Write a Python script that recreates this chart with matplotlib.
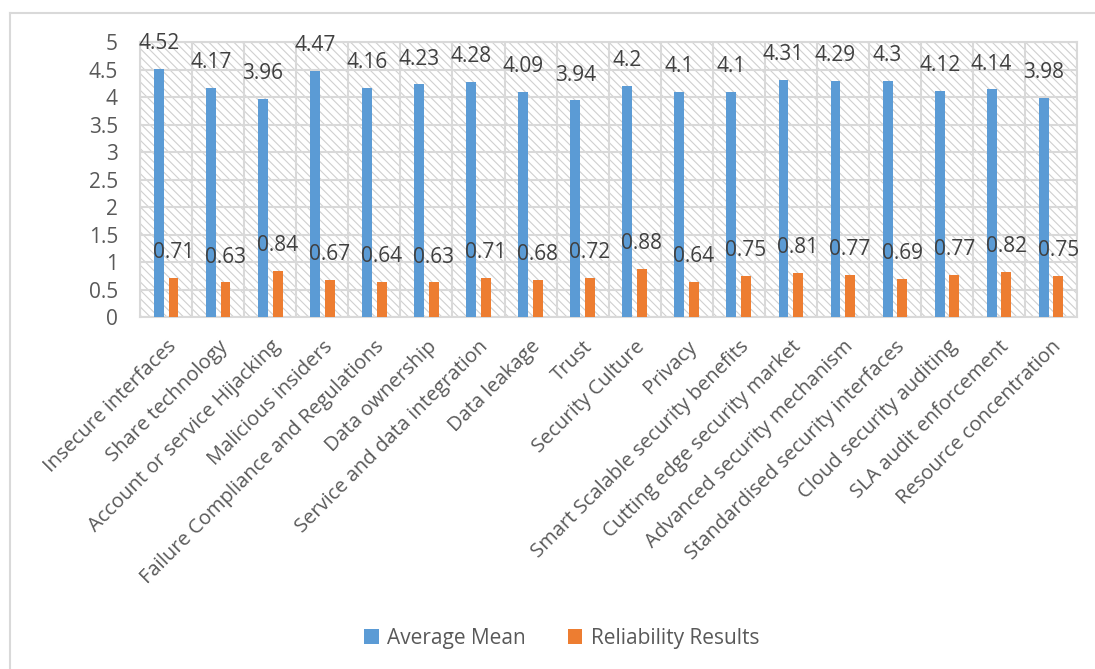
import numpy as np
import matplotlib
matplotlib.use('Agg')
import matplotlib.pyplot as plt
from matplotlib.patches import Rectangle
from matplotlib.lines import Line2D

categories = ['Insecure interfaces', 'Share technology', 'Account or service Hijacking',
              'Malicious insiders', 'Failure Compliance and Regulations', 'Data ownership',
              'Service and data integration', 'Data leakage', 'Trust', 'Security Culture',
              'Privacy', 'Smart Scalable security benefits', 'Cutting edge security market',
              'Advanced security mechanism', 'Standardised security interfaces',
              'Cloud security auditing', 'SLA audit enforcement', 'Resource concentration']
average_mean = [4.52, 4.17, 3.96, 4.47, 4.16, 4.23, 4.28, 4.09, 3.94, 4.2,
                4.1, 4.1, 4.31, 4.29, 4.3, 4.12, 4.14, 3.98]
reliability = [0.71, 0.63, 0.84, 0.67, 0.64, 0.63, 0.71, 0.68, 0.72, 0.88,
               0.64, 0.75, 0.81, 0.77, 0.69, 0.77, 0.82, 0.75]

plt.rcParams['font.family'] = ['Open Sans', 'DejaVu Sans']
plt.rcParams['hatch.color'] = '#d0d0d0'
plt.rcParams['hatch.linewidth'] = 0.8
txt = '#595959'
grid = '#d9d9d9'

fig = plt.figure(figsize=(10.95, 6.69), dpi=100)
ax = fig.add_axes([0.128, 0.526, 0.8556, 0.411])

# outer frame (only top and left edges visible in the original)
W, H = 1095, 669
fig.lines.append(Line2D([10 / W, 10 / W], [0, 1 - 13 / H], transform=fig.transFigure,
                        color='#d9d9d9', linewidth=1.5))
fig.lines.append(Line2D([10 / W, 1], [1 - 13 / H, 1 - 13 / H], transform=fig.transFigure,
                        color='#d9d9d9', linewidth=1.5))

x = np.arange(len(categories))
w = 0.19
ax.add_patch(Rectangle((-0.5, 0), len(categories), 5, facecolor='white',
                       hatch='\\\\\\\\', edgecolor='#d0d0d0', linewidth=0, zorder=0))
b1 = ax.bar(x - 0.14, average_mean, w, color='#5b9bd5', label='Average Mean', zorder=3)
b2 = ax.bar(x + 0.14, reliability, w, color='#ed7d31', label='Reliability Results', zorder=3)

for xi, v in zip(x, average_mean):
    ax.text(xi - 0.14, v + 0.27, f'{v:g}', ha='center', va='bottom', fontsize=15,
            color='#404040', zorder=4)
for xi, v in zip(x, reliability):
    ax.text(xi + 0.14, v + 0.27, f'{v:g}', ha='center', va='bottom', fontsize=15,
            color='#404040', zorder=4)

ax.set_xlim(-0.5, len(categories) - 0.5)
ax.set_ylim(0, 5)
yt = np.arange(0, 5.01, 0.5)
ax.set_yticks(yt)
ax.set_yticklabels([f'{v:g}' for v in yt], fontsize=15, color=txt)
ax.set_xticks(x)
ax.set_xticklabels(categories, rotation=45, ha='right', rotation_mode='anchor',
                   fontsize=14.5, color=txt)
ax.set_xticks(np.arange(-0.5, len(categories), 1), minor=True)
ax.grid(True, axis='y', color=grid, linewidth=1.5, zorder=1)
ax.grid(True, axis='x', which='minor', color=grid, linewidth=1.5, zorder=1)
ax.tick_params(axis='both', which='both', length=0)
ax.tick_params(axis='y', pad=16)
ax.tick_params(axis='x', pad=14)
for s in ax.spines.values():
    s.set_color(grid)
    s.set_linewidth(1.5)

fig.legend(handles=[b1, b2], loc='center', bbox_to_anchor=(0.513, 0.046), ncol=2,
           frameon=False, fontsize=15, labelcolor=txt, handlelength=0.7, handleheight=0.7,
           columnspacing=2.0, handletextpad=0.4)

fig.savefig('out.png', dpi=100)
